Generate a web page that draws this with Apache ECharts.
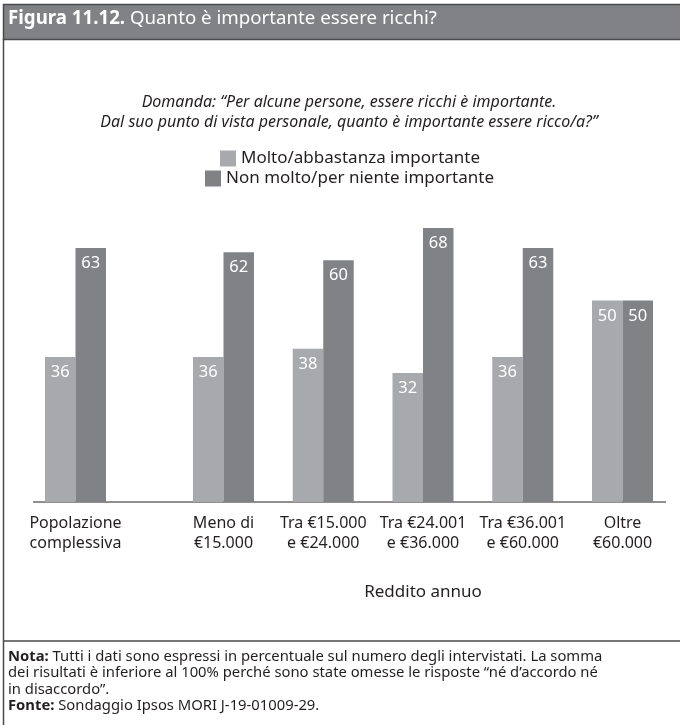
<!DOCTYPE html>
<html>
<head>
<meta charset="utf-8">
<script src="https://cdn.jsdelivr.net/npm/echarts@6/dist/echarts.min.js"></script>
<style>
html,body{margin:0;padding:0;background:#fff;}
#chart{width:680px;height:725px;}
</style>
</head>
<body>
<div id="chart"></div>
<script>
// ---- data ----
const totalCategory = ['Popolazione\ncomplessiva'];
const incomeCategories = ['Meno di\n€15.000', 'Tra €15.000\ne €24.000', 'Tra €24.001\ne €36.000', 'Tra €36.001\ne €60.000', 'Oltre\n€60.000'];
const seriesNames = ['Molto/abbastanza importante', 'Non molto/per niente importante'];
const importantTotal = [36];
const notImportantTotal = [63];
const importantIncome = [36, 38, 32, 36, 50];
const notImportantIncome = [62, 60, 68, 63, 50];
const axisTitle = 'Reddito annuo';
const headerBold = 'Figura 11.12.';
const headerText = ' Quanto è importante essere ricchi?';
const questionText = 'Domanda: “Per alcune persone, essere ricchi è importante.\nDal suo punto di vista personale, quanto è importante essere ricco/a?”';
const noteLines = [
  ['Nota:', ' Tutti i dati sono espressi in percentuale sul numero degli intervistati. La somma'],
  ['', 'dei risultati è inferiore al 100% perché sono state omesse le risposte “né d’accordo né'],
  ['', 'in disaccordo”.'],
  ['Fonte:', ' Sondaggio Ipsos MORI J-19-01009-29.']
];

// ---- style ----
const FONT = 'Noto Sans';
const LIGHT = '#a7a9ac';
const DARK = '#808285';
const TEXT = '#231f20';
const baseY = 502;
const LEGEND_CENTER = 350;
const LEGEND_FONT = 17;

const chart = echarts.init(document.getElementById('chart'), null, {renderer: 'canvas'});

const measureCtx = document.createElement('canvas').getContext('2d');
measureCtx.font = LEGEND_FONT + 'px "' + FONT + '"';
function legendLeft(name) {
  const w = 16 + 5 + measureCtx.measureText(name).width;
  return Math.round(LEGEND_CENTER - w / 2);
}

function barSeries(name, data, color, idx) {
  return {
    name: name, type: 'bar', data: data,
    xAxisIndex: idx, yAxisIndex: idx,
    barWidth: 30.5, barGap: '0%',
    itemStyle: {color: color},
    label: {show: true, position: 'insideTop', distance: 7, color: '#fff', fontSize: 16.5, fontFamily: FONT}
  };
}

function xAx(idx, data, extra) {
  return Object.assign({
    type: 'category', gridIndex: idx, data: data,
    axisLine: {show: false}, axisTick: {show: false},
    axisLabel: {interval: 0, fontSize: 16, lineHeight: 20, color: TEXT, margin: 11, fontFamily: FONT}
  }, extra || {});
}
function yAx(idx) {
  return {type: 'value', gridIndex: idx, min: 0, max: 100, show: false, splitLine: {show: false}};
}

const noteGraphics = noteLines.map((l, i) => ({
  type: 'text', left: 8, top: 649 + i * 16.5,
  style: {
    text: (l[0] ? '{b|' + l[0] + '}' : '') + '{n|' + l[1] + '}',
    rich: {
      b: {fontFamily: FONT, fontSize: 14.8, fontWeight: 'bold', fill: TEXT, color: TEXT},
      n: {fontFamily: FONT, fontSize: 14.8, fill: TEXT, color: TEXT}
    }
  }
}));

const legendStyle = {itemWidth: 16, itemHeight: 16, icon: 'rect', padding: 0,
  textStyle: {fontSize: LEGEND_FONT, color: TEXT, fontFamily: FONT}};

const option = {
  animation: false,
  textStyle: {fontFamily: FONT},
  grid: [
    {left: 33, width: 85, top: baseY - 403, height: 403},
    {left: 173.6, width: 498.8, top: baseY - 403, height: 403}
  ],
  xAxis: [
    xAx(0, totalCategory),
    xAx(1, incomeCategories, {name: axisTitle, nameLocation: 'middle', nameGap: 82,
      nameTextStyle: {fontSize: 17, color: TEXT, fontFamily: FONT}})
  ],
  yAxis: [yAx(0), yAx(1)],
  legend: [
    Object.assign({data: [seriesNames[0]], top: 150, left: legendLeft(seriesNames[0])}, legendStyle),
    Object.assign({data: [seriesNames[1]], top: 170, left: legendLeft(seriesNames[1])}, legendStyle)
  ],
  series: [
    barSeries(seriesNames[0], importantTotal, LIGHT, 0),
    barSeries(seriesNames[1], notImportantTotal, DARK, 0),
    barSeries(seriesNames[0], importantIncome, LIGHT, 1),
    barSeries(seriesNames[1], notImportantIncome, DARK, 1)
  ],
  graphic: [
    // header bar
    {type: 'rect', shape: {x: 3.5, y: 4.5, width: 690, height: 35}, style: {fill: DARK, stroke: '#4a4a4c', lineWidth: 1.5}},
    {type: 'text', left: 8, top: 9, style: {
      text: '{b|' + headerBold + '}{n|' + headerText + '}',
      rich: {
        b: {fontFamily: FONT, fontSize: 18.7, fontWeight: 'bold', fill: '#fff', color: '#fff'},
        n: {fontFamily: FONT, fontSize: 18.7, fill: '#fff', color: '#fff'}
      }
    }},
    // left frame
    {type: 'line', shape: {x1: 3.5, y1: 39, x2: 3.5, y2: 725}, style: {stroke: '#4a4a4c', lineWidth: 1.5}},
    // separator above note
    {type: 'line', shape: {x1: 3.5, y1: 641, x2: 680, y2: 641}, style: {stroke: '#4a4a4c', lineWidth: 1.5}},
    // baseline
    {type: 'line', shape: {x1: 33, y1: baseY, x2: 666, y2: baseY}, style: {stroke: TEXT, lineWidth: 1.2}},
    // question
    {type: 'text', x: 349, y: 92, style: {
      text: questionText, fontFamily: FONT, fontSize: 16, fontStyle: 'italic', lineHeight: 20,
      fill: TEXT, textAlign: 'center'
    }}
  ].concat(noteGraphics)
};
chart.setOption(option);
</script>
</body>
</html>
